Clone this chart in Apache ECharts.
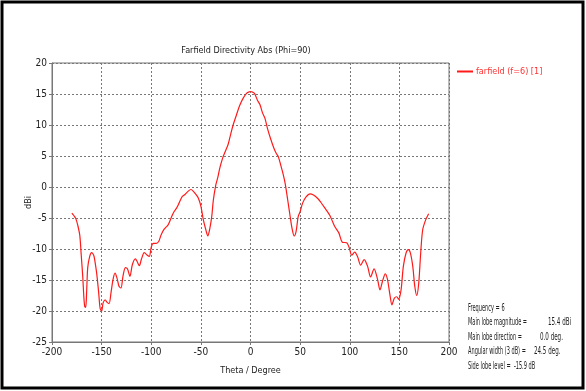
<!DOCTYPE html>
<html>
<head>
<meta charset="utf-8">
<script src="https://cdn.jsdelivr.net/npm/echarts@6/dist/echarts.min.js"></script>
<style>
  html, body { margin: 0; padding: 0; background: #fff; }
  #chart { width: 586px; height: 391px; }
</style>
</head>
<body>
<div id="chart"></div>
<script>
// theta (deg) and directivity (dBi)
const thetaDeg = [
  -180, -178, -176, -174, -172, -170.5, -169, -168, -167, -166, -165, -164, -162, -160, -158, -157,
  -155, -153, -151.5, -150, -148.5, -146.5, -144.5, -142.5, -140.5, -138.5, -136.5, -134.5, -132.5,
  -130.5, -128.5, -126, -124, -121.5, -119, -116, -114, -112, -110, -107, -104, -102, -100, -98, -95,
  -92.5, -90, -87, -83, -80, -77.5, -74.5, -72, -69, -66, -63, -60, -57.5, -55, -52.5, -50, -47.5,
  -45, -43, -41, -39, -37.5, -35, -33, -31, -28, -25, -22.5, -20, -17.5, -14, -11, -7.5, -4, -2, 0,
  2, 4, 7, 9.5, 12, 14.5, 17, 20, 23.5, 26, 28, 31, 33, 35, 37.5, 40, 42, 44, 46, 48, 50, 52.5, 56,
  60, 63.5, 68, 71, 75, 78, 80, 83, 85, 89, 92.5, 97, 99.5, 102, 105, 108, 111, 114.5, 118, 121,
  124.5, 128, 130.5, 133, 135.8, 138, 140.5, 142.5, 145, 147.3, 149.3, 151.7, 154, 156.8, 159, 161,
  163.5, 165.5, 167.5, 169.5, 171.5, 173.5, 176.5, 179.5
];
const directivity = [
  -4.2, -4.6, -5.1, -6.2, -7.8, -11.1, -14.5, -17.5, -19.3, -19.4, -16.5, -13, -11.2, -10.6, -11, -11.7,
  -13.9, -17, -19.6, -20, -18.7, -18.2, -18.6, -18.8, -17, -14.9, -13.9, -14.7, -16,
  -16.3, -14.4, -13, -13.2, -14.4, -12.5, -11.6, -12.1, -12.7, -11.7, -10.6, -11, -11.2, -9.7, -9.1, -9.1,
  -8.8, -7.7, -6.8, -6.1, -5, -4.1, -3.4, -2.6, -1.6, -1.2, -0.7, -0.4, -0.7, -1.2, -1.8, -3.1, -5.3,
  -6.9, -7.9, -6.7, -4.7, -2.2, 0.3, 1.5, 3, 4.7, 5.9, 6.9, 8.5, 10, 11.7, 13.1, 14.3, 15.1, 15.3, 15.4,
  15.3, 15.1, 14, 13.3, 12, 11.1, 9.5, 7.9, 6.3, 5.4, 4.9, 3.2, 2, 0.5, -2.1, -4.8, -6.8, -7.9, -7.1, -4.8, -4, -2.6, -1.6,
  -1.1, -1.3, -1.9, -2.5, -3.4, -4.1, -4.6, -5.7, -6.4, -7.4, -8.9, -9, -9.8, -11, -10.5, -11.3, -12.6, -11.7, -12.8, -14.5,
  -13.2, -14.9, -16.6, -15.2, -14, -14.9, -17.4, -19, -17.9, -17.7, -18.1, -16.6, -12.8, -10.6, -10.1, -10.6,
  -12.8, -16, -17.5, -15.5, -10.6, -6.9, -5.3, -4.3
];
const xTicks = { min: -200, max: 200, step: 50 };
const yTicks = { min: -25, max: 20, step: 5 };
const infoLabels = [
  "Frequency = 6",
  "Main lobe magnitude =",
  "Main lobe direction =",
  "Angular width (3 dB) =",
  "Side lobe level =  -15.9 dB"
];
const infoValues = ["", "15.4 dBi", "0.0 deg.", "24.5 deg.", ""];

const font = "'DejaVu Sans Condensed', 'Liberation Sans', sans-serif";
const chart = echarts.init(document.getElementById("chart"));

// the info box text in the source is very narrow, squeeze it horizontally
const valueX = [0, 548, 540, 534, 0];
const infoText = [];
infoLabels.forEach((line, i) => {
  const y = 308 + i * 14.5;
  infoText.push({
    type: "text", x: 468, y: y, scaleX: 0.56, silent: true,
    style: { text: line, fontSize: 10, fill: "#222", fontFamily: font, verticalAlign: "middle" },
  });
  if (infoValues[i]) {
    infoText.push({
      type: "text", x: valueX[i], y: y, scaleX: 0.62, silent: true,
      style: { text: infoValues[i], fontSize: 10, fill: "#222", fontFamily: font, verticalAlign: "middle" },
    });
  }
});

const option = {
  backgroundColor: "#fff",
  animation: false,
  textStyle: { fontFamily: font },
  title: {
    text: "Farfield Directivity Abs (Phi=90)",
    left: 241,
    top: 41,
    textAlign: "center",
    textStyle: { fontSize: 9, fontWeight: "normal", color: "#222", fontFamily: font },
  },
  legend: {
    left: 457,
    top: 67,
    padding: 0,
    icon: "rect",
    itemWidth: 16,
    itemHeight: 2,
    itemGap: 4,
    textStyle: { fontSize: 9, color: "#ff3030", fontFamily: font, padding: [0, 0, 0, -2] },
    data: ["farfield (f=6) [1]"],
  },
  grid: {
    left: 52,
    right: 137,
    top: 63,
    bottom: 49,
    show: true,
    borderColor: "#777",
    borderWidth: 1,
  },
  xAxis: {
    type: "value",
    min: xTicks.min,
    max: xTicks.max,
    interval: xTicks.step,
    name: "Theta / Degree",
    nameLocation: "middle",
    nameGap: 24,
    nameMoveOverlap: false,
    nameTextStyle: { fontSize: 9, color: "#222", fontFamily: font },
    axisLine: { show: true, onZero: false, lineStyle: { color: "#777" } },
    axisTick: { show: true, length: 3, lineStyle: { color: "#777" } },
    axisLabel: { fontSize: 10, color: "#222", margin: 5, fontFamily: font },
    splitLine: { show: true, lineStyle: { color: "#777", type: [2, 2] } },
  },
  yAxis: {
    type: "value",
    min: yTicks.min,
    max: yTicks.max,
    interval: yTicks.step,
    name: "dBi",
    nameLocation: "middle",
    nameGap: 19,
    nameMoveOverlap: false,
    nameRotate: 90,
    nameTextStyle: { fontSize: 9, color: "#222", fontFamily: font },
    axisLine: { show: true, onZero: false, lineStyle: { color: "#777" } },
    axisTick: { show: true, length: 3, lineStyle: { color: "#777" } },
    axisLabel: { fontSize: 10, color: "#222", margin: 5, fontFamily: font },
    splitLine: { show: true, lineStyle: { color: "#777", type: [2, 2] } },
  },
  series: [
    {
      name: "farfield (f=6) [1]",
      type: "line",
      data: thetaDeg.map((t, i) => [t, directivity[i]]),
      symbol: "none",
      smooth: 0.3,
      lineStyle: { color: "#ff1a1a", width: 1.2 },
      itemStyle: { color: "#ff1a1a" },
    },
  ],
  graphic: [
    {
      type: "rect",
      shape: { x: 2, y: 2, width: 581, height: 386 },
      style: { fill: null, stroke: "#000", lineWidth: 3 },
      silent: true,
    },
  ].concat(infoText),
};
chart.setOption(option);
</script>
</body>
</html>
